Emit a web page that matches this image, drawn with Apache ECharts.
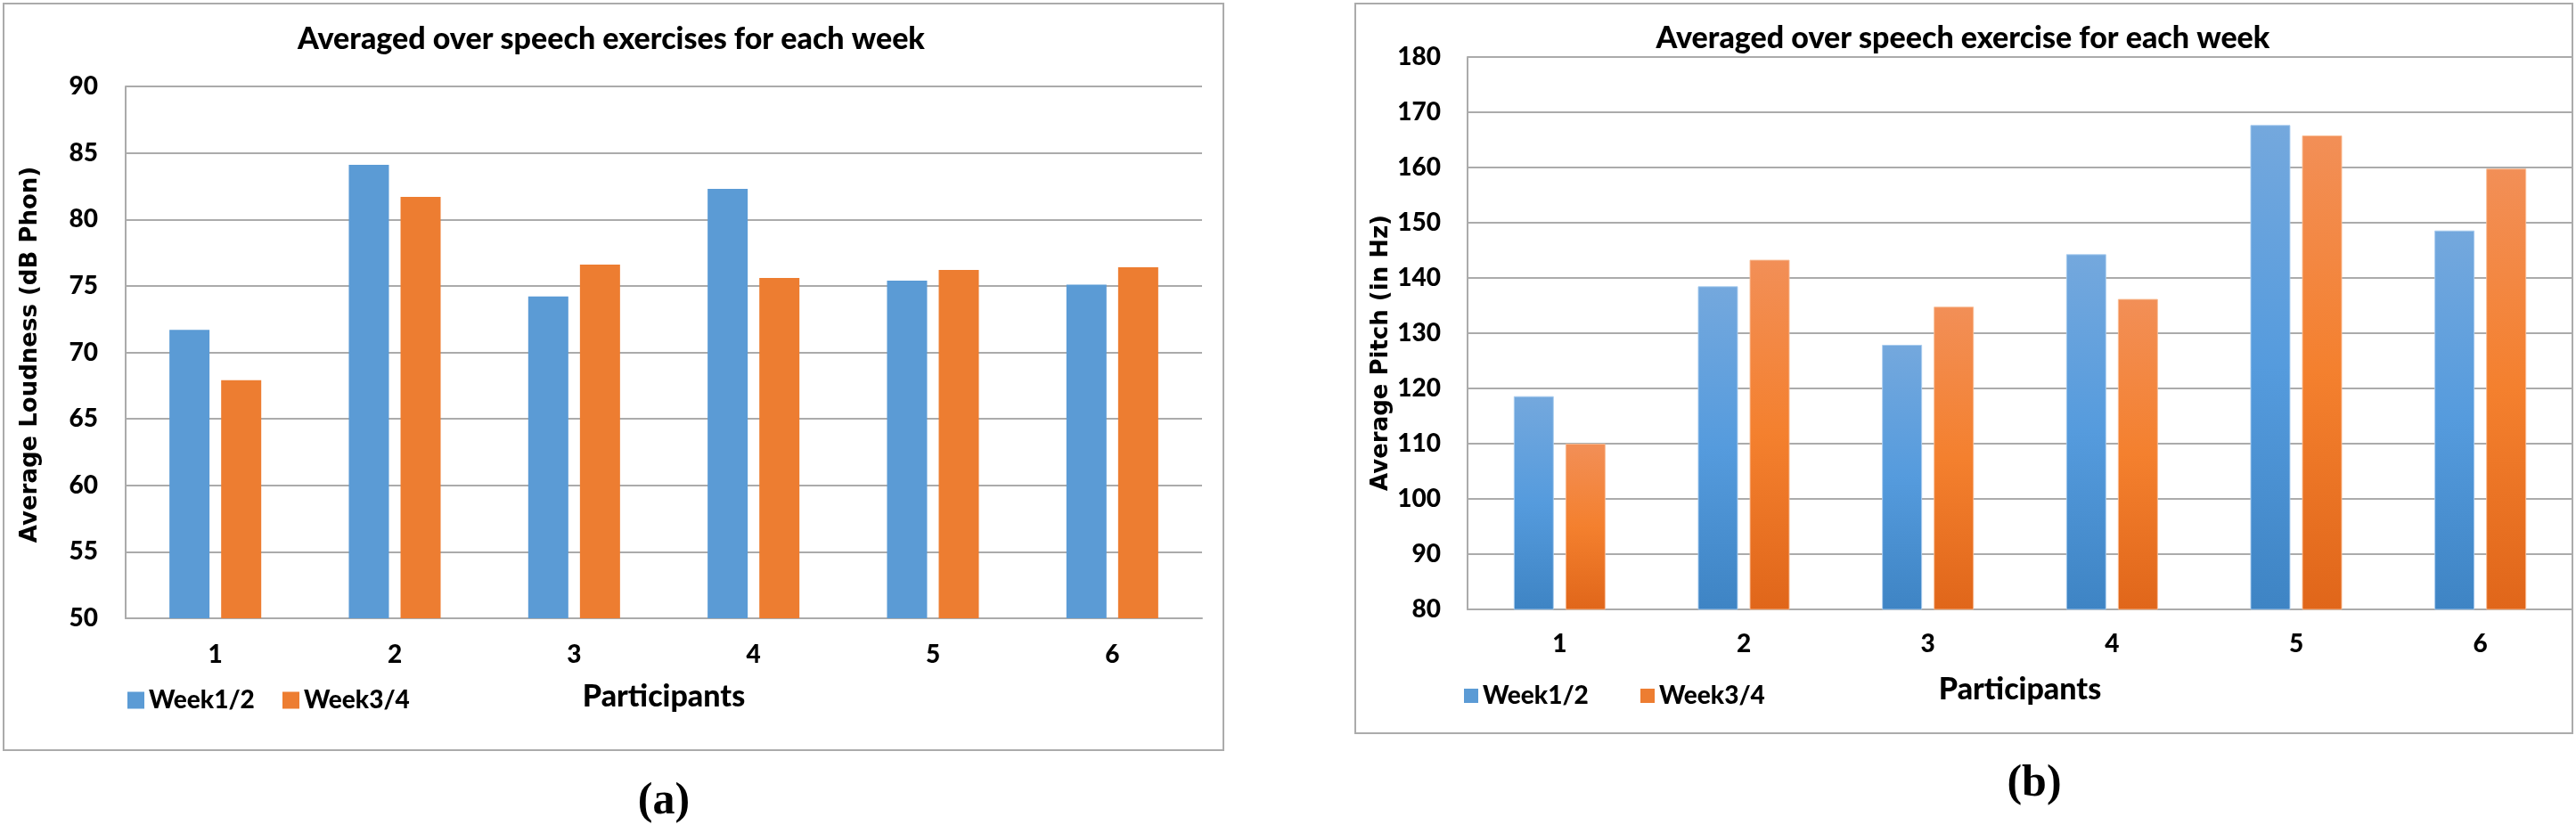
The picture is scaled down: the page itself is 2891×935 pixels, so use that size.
<!DOCTYPE html>
<html>
<head>
<meta charset="utf-8">
<script src="https://cdn.jsdelivr.net/npm/echarts@6/dist/echarts.min.js"></script>
<style>
html,body{margin:0;padding:0;background:#ffffff;}
#c{width:2891px;height:935px;}
</style>
</head>
<body>
<div id="c"></div>
<script>
// ---- data ----
const participants = ['1', '2', '3', '4', '5', '6'];
const seriesNames = ['Week1/2', 'Week3/4'];
const loudnessWeek12 = [71.7, 84.1, 74.2, 82.3, 75.4, 75.1];
const loudnessWeek34 = [67.9, 81.7, 76.6, 75.6, 76.2, 76.4];
const pitchWeek12 = [118.6, 138.5, 127.9, 144.3, 167.7, 148.6];
const pitchWeek34 = [110.0, 143.3, 134.8, 136.2, 165.8, 159.8];
const loudnessTicks = { min: 50, max: 90, interval: 5 };
const pitchTicks = { min: 80, max: 180, interval: 10 };
const titleA = 'Averaged over speech exercises for each week';
const titleB = 'Averaged over speech exercise for each week';
const yNameA = 'Average Loudness (dB Phon)';
const yNameB = 'Average Pitch (in Hz)';
const xName = 'Participants';
const panelA = '(a)';
const panelB = '(b)';

// ---- styles ----
const GRID_COLOR = '#ABABAB';
const LABEL_FONT = 'Lato';
const W = 900;
const blueFlat = '#5B9BD5';
const orangeFlat = '#ED7D31';
const blueGrad = { type: 'linear', x: 0, y: 0, x2: 0, y2: 1, colorStops: [
  { offset: 0, color: '#74A8DD' }, { offset: 0.5, color: '#559BDD' }, { offset: 1, color: '#3E84C4' } ] };
const orangeGrad = { type: 'linear', x: 0, y: 0, x2: 0, y2: 1, colorStops: [
  { offset: 0, color: '#F28F57' }, { offset: 0.5, color: '#F4802E' }, { offset: 1, color: '#E0661A' } ] };

function yAxisCfg(gridIndex, ticks, margin) {
  return {
    type: 'value', gridIndex: gridIndex,
    min: ticks.min, max: ticks.max, interval: ticks.interval,
    axisLine: { show: true, lineStyle: { color: GRID_COLOR, width: 2 } },
    axisTick: { show: false },
    splitLine: { show: true, lineStyle: { color: GRID_COLOR, width: 2 } },
    axisLabel: { margin: margin, color: '#000', fontFamily: LABEL_FONT, fontWeight: W, fontSize: 28 }
  };
}
function xAxisCfg(gridIndex, margin, nameGap) {
  return {
    type: 'category', gridIndex: gridIndex, data: participants,
    axisLine: { show: true, lineStyle: { color: GRID_COLOR, width: 2 } },
    axisTick: { show: false },
    axisLabel: { margin: margin, color: '#000', fontFamily: LABEL_FONT, fontWeight: W, fontSize: 28 },
    name: xName, nameLocation: 'middle', nameGap: nameGap,
    nameTextStyle: { color: '#000', fontFamily: LABEL_FONT, fontWeight: W, fontSize: 34 }
  };
}
function legendCfg(name, left, top, iconSize) {
  return {
    data: [name], left: left, top: top, padding: 0,
    icon: 'rect', itemWidth: iconSize, itemHeight: iconSize, itemGap: 0,
    textStyle: { color: '#000', fontFamily: LABEL_FONT, fontWeight: W, fontSize: 28, lineHeight: 30 }
  };
}
function txt(text, x, y, font, rot) {
  return {
    type: 'text', x: x, y: y, rotation: rot || 0, silent: true,
    style: { text: text, fill: '#000', font: font,
      align: 'center', verticalAlign: 'middle', textAlign: 'center', textVerticalAlign: 'middle' }
  };
}
function box(x, y, w, h) {
  return { type: 'rect', silent: true, shape: { x: x, y: y, width: w, height: h },
    style: { fill: 'none', stroke: GRID_COLOR, lineWidth: 2 } };
}

const chart = echarts.init(document.getElementById('c'), null, { renderer: 'canvas' });
chart.setOption({
  backgroundColor: '#ffffff',
  animation: false,
  grid: [
    { left: 141, top: 97, width: 1208, height: 597 },
    { left: 1647, top: 64, width: 1240, height: 620 }
  ],
  xAxis: [ xAxisCfg(0, 27, 71), xAxisCfg(1, 25, 73) ],
  yAxis: [ yAxisCfg(0, loudnessTicks, 31), yAxisCfg(1, pitchTicks, 30) ],
  legend: [
    legendCfg(seriesNames[0], 143, 771, 19),
    legendCfg(seriesNames[1], 317, 771, 19),
    legendCfg(seriesNames[0], 1643, 766, 16),
    legendCfg(seriesNames[1], 1841, 766, 16)
  ],
  series: [
    { name: seriesNames[0], type: 'bar', xAxisIndex: 0, yAxisIndex: 0, data: loudnessWeek12,
      barWidth: 45, barGap: '29%', itemStyle: { color: blueFlat } },
    { name: seriesNames[1], type: 'bar', xAxisIndex: 0, yAxisIndex: 0, data: loudnessWeek34,
      barWidth: 45, barGap: '29%', itemStyle: { color: orangeFlat } },
    { name: seriesNames[0], type: 'bar', xAxisIndex: 1, yAxisIndex: 1, data: pitchWeek12,
      barWidth: 45, barGap: '29%', itemStyle: { color: blueGrad, borderColor: 'rgba(170,205,240,0.9)', borderWidth: 1 } },
    { name: seriesNames[1], type: 'bar', xAxisIndex: 1, yAxisIndex: 1, data: pitchWeek34,
      barWidth: 45, barGap: '29%', itemStyle: { color: orangeGrad, borderColor: 'rgba(248,190,150,0.9)', borderWidth: 1 } }
  ],
  graphic: [
    box(4, 4, 1369, 838),
    box(1521, 4, 1366, 819),
    txt(titleA, 686, 44, W + ' 34px Lato'),
    txt(titleB, 2203, 43, W + ' 34px Lato'),
    txt(yNameA, 34, 398, 'bold 26px "DejaVu Sans"', Math.PI / 2),
    txt(yNameB, 1550, 396, 'bold 26px "DejaVu Sans"', Math.PI / 2),
    txt(panelA, 745, 900, 'bold 50px "Liberation Serif"'),
    txt(panelB, 2283, 880, 'bold 50px "Liberation Serif"')
  ]
});
</script>
</body>
</html>
